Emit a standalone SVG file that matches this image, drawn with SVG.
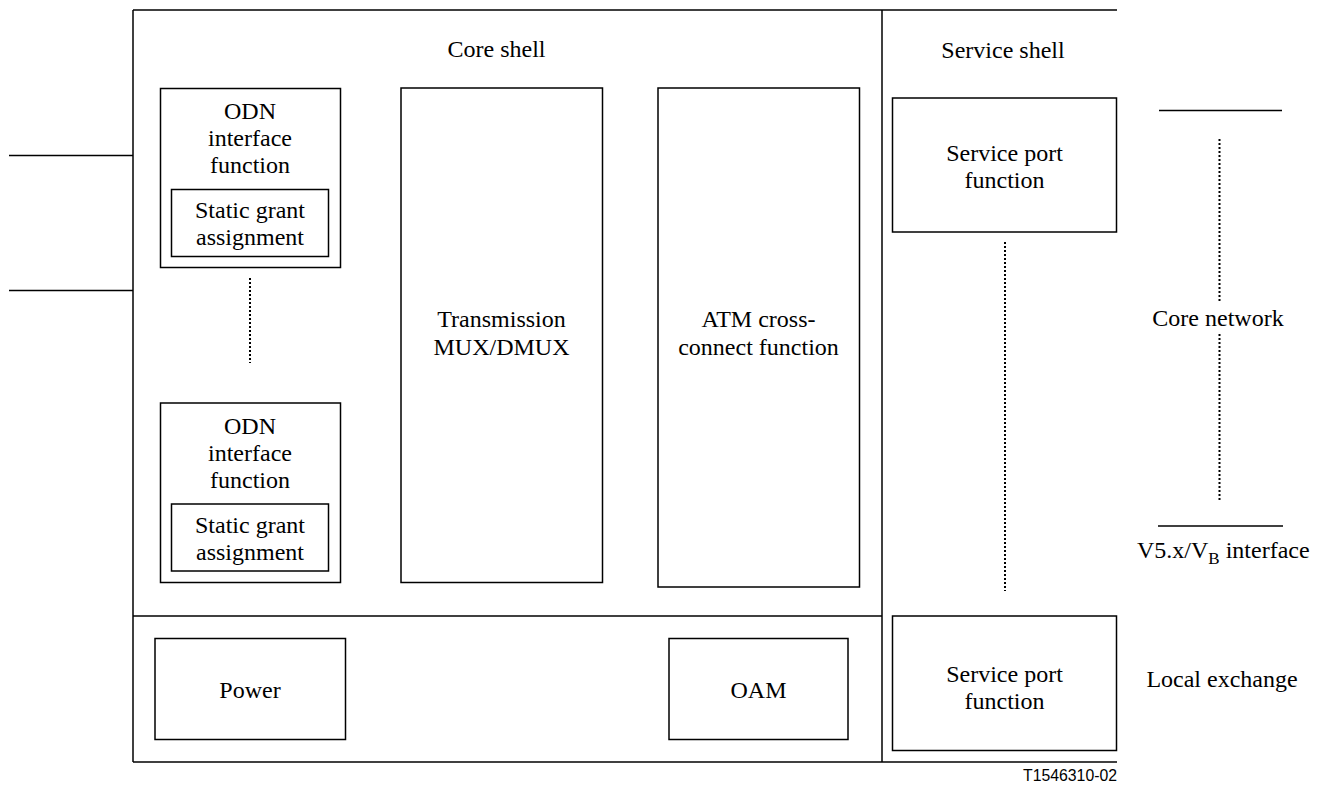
<svg xmlns="http://www.w3.org/2000/svg" width="1324" height="785" viewBox="0 0 1324 785">
<style>
.ln{stroke:#000;stroke-width:1.5;fill:none}
.bx{stroke:#000;stroke-width:1.5;fill:#fff}
.dt{stroke:#000;stroke-width:2;stroke-dasharray:2 2;fill:none}
text{font-family:'Liberation Serif','Times New Roman',serif;font-size:24px;fill:#000;text-anchor:middle}
text.id{font-family:'Liberation Sans',Arial,sans-serif;font-size:15.8px;text-anchor:end}
</style>
<rect width="1324" height="785" fill="#fff"/>
<g id="frame">
<line class="ln" x1="133" y1="10" x2="1117" y2="10"/>
<line class="ln" x1="133" y1="10" x2="133" y2="762"/>
<line class="ln" x1="133" y1="762" x2="1117" y2="762"/>
<line class="ln" x1="882" y1="10" x2="882" y2="762"/>
<line class="ln" x1="133" y1="616" x2="882" y2="616"/>
<text x="496.5" y="57">Core shell</text>
<text x="1003" y="58">Service shell</text>
</g>
<g id="connectors">
<line class="ln" x1="9" y1="155.5" x2="133" y2="155.5"/>
<line class="ln" x1="9" y1="290.5" x2="133" y2="290.5"/>
<line class="dt" x1="250" y1="278" x2="250" y2="363"/>
<line class="dt" x1="1005" y1="242" x2="1005" y2="591"/>
<line class="ln" x1="1159" y1="110.5" x2="1282" y2="110.5"/>
<line class="dt" x1="1219.5" y1="139" x2="1219.5" y2="302"/>
<line class="dt" x1="1219.5" y1="334" x2="1219.5" y2="500"/>
<line class="ln" x1="1158" y1="526" x2="1283" y2="526"/>
</g>
<g id="odn1">
<rect class="bx" x="160.5" y="88.5" width="180" height="179"/>
<text x="250" y="119">ODN</text>
<text x="250" y="146">interface</text>
<text x="250" y="173">function</text>
<rect class="bx" x="171.5" y="189.5" width="157" height="67"/>
<text x="250" y="218">Static grant</text>
<text x="250" y="245">assignment</text>
</g>
<g id="odn2">
<rect class="bx" x="160.5" y="403" width="180" height="179.5"/>
<text x="250" y="434">ODN</text>
<text x="250" y="461">interface</text>
<text x="250" y="488">function</text>
<rect class="bx" x="171.5" y="504" width="157" height="67"/>
<text x="250" y="533">Static grant</text>
<text x="250" y="560">assignment</text>
</g>
<g id="mux">
<rect class="bx" x="401" y="88" width="201.5" height="494.5"/>
<text x="501.5" y="327">Transmission</text>
<text x="501.5" y="355">MUX/DMUX</text>
</g>
<g id="atm">
<rect class="bx" x="658" y="88" width="201.5" height="499"/>
<text x="758.5" y="327">ATM cross-</text>
<text x="758.5" y="355">connect function</text>
</g>
<g id="power">
<rect class="bx" x="155" y="638.5" width="190.5" height="101"/>
<text x="250" y="698">Power</text>
</g>
<g id="oam">
<rect class="bx" x="669" y="638.5" width="179" height="101"/>
<text x="758.5" y="698">OAM</text>
</g>
<g id="sp1">
<rect class="bx" x="892.5" y="98" width="224" height="134"/>
<text x="1004.5" y="161">Service port</text>
<text x="1004.5" y="188">function</text>
</g>
<g id="sp2">
<rect class="bx" x="892.5" y="616" width="224" height="134.5"/>
<text x="1004.5" y="682">Service port</text>
<text x="1004.5" y="709">function</text>
</g>
<g id="labels">
<text x="1218" y="326">Core network</text>
<text x="1137" y="558" style="text-anchor:start">V5.x/V<tspan font-size="17" dy="6">B</tspan><tspan dy="-6"> interface</tspan></text>
<text x="1222" y="687">Local exchange</text>
<text class="id" x="1117" y="781">T1546310-02</text>
</g>
</svg>
